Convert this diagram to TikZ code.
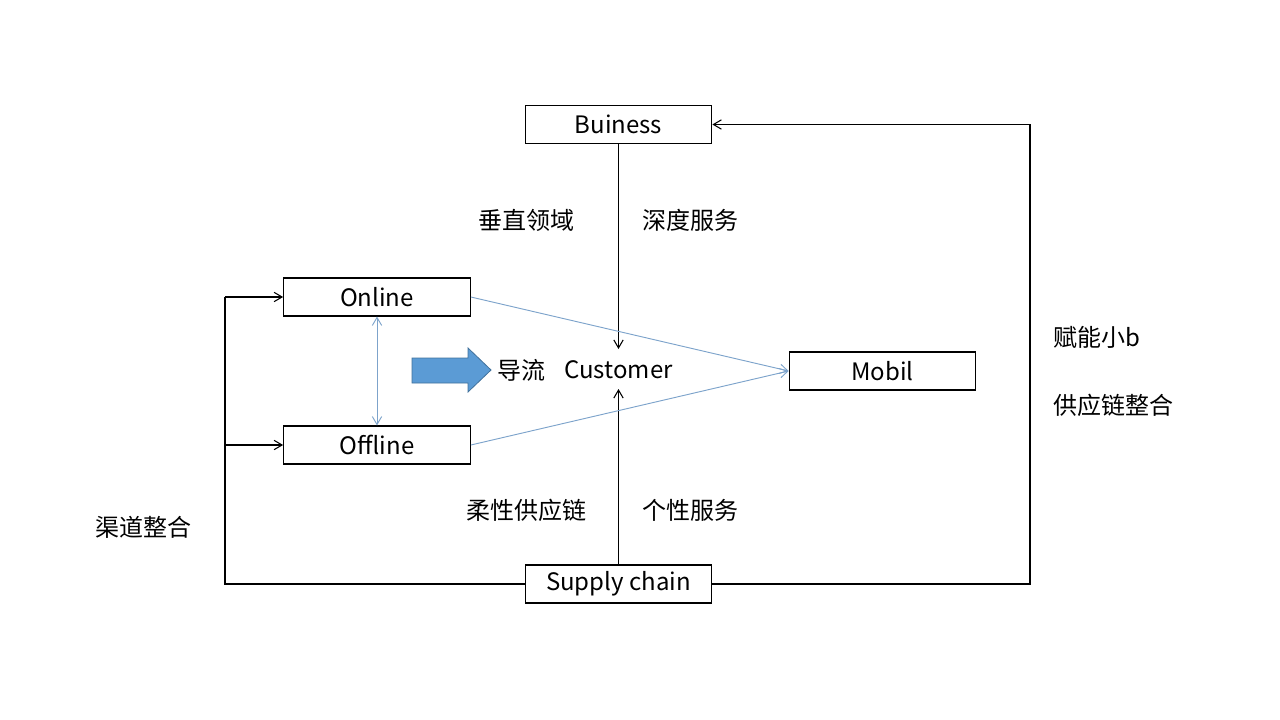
\documentclass[tikz,border=0pt]{standalone}
\usepackage{fontspec}
\setmainfont{Noto Sans CJK SC}
\usetikzlibrary{arrows.meta}
\definecolor{flowblue}{RGB}{91,155,213}
\definecolor{flowedge}{RGB}{65,113,156}
\definecolor{linkblue}{RGB}{125,163,203}

\begin{document}
\begin{tikzpicture}[x=0.75pt,y=-0.75pt,
    box/.style={draw,line width=0.8pt,minimum width=140pt,minimum height=28.5pt,inner sep=0pt,font=\fontsize{18}{20}\selectfont},
    lbl/.style={font=\fontsize{18}{20}\selectfont,inner sep=0pt},
    link/.style={line width=0.8pt,-{Straight Barb[length=6pt,width=7pt]}},
    bluelink/.style={draw=linkblue,line width=0.7pt,-{Straight Barb[length=6pt,width=7pt]}}]
  \useasboundingbox (0,0) rectangle (1280,720);
  % boxes
  \node[box] (buiness) at (618.5,124.5) {Buiness};
  \node[box] (online) at (377,297) {Online};
  \node[box] (offline) at (377,445) {Offline};
  \node[box] (mobil) at (882.5,371) {Mobil};
  \node[box] (supply) at (618.5,584) {Supply chain};
  \node[lbl] (customer) at (618.5,370) {Customer};
  \node[lbl] (daoliu) at (521,370) {导流};
  % labels
  \node[lbl] (chuizhi) at (526,220) {垂直领域};
  \node[lbl] (shendu) at (690,220) {深度服务};
  \node[lbl] (rouxing) at (526,510) {柔性供应链};
  \node[lbl] (gexing) at (690,510) {个性服务};
  \node[lbl] (qudao) at (143,527) {渠道整合};
  \node[lbl,anchor=west] (funeng) at (1053,337) {赋能小b};
  \node[lbl,anchor=west] (gongying) at (1053,405) {供应链整合};
  % big arrow
  \filldraw[fill=flowblue,draw=flowedge,line width=0.6pt]
    (412,358) -- (468,358) -- (468,348) -- (491,370) -- (468,392)
    -- (468,383) -- (412,383) -- cycle;
  % connectors
  \coordinate (cin) at (618.5,349);
  \coordinate (cout) at (618.5,389);
  \coordinate (lbot) at (225,584);
  \coordinate (ltop) at (225,297);
  \coordinate (lmid) at (225,445);
  \coordinate (rbot) at (1030,584);
  \coordinate (rtop) at (1030,124.5);
  \draw[link] (buiness) -- (cin);
  \draw[link] (supply) -- (cout);
  \draw[line width=0.8pt] (supply.west) -- (lbot) -- (ltop);
  \draw[link] (ltop) -- (online.west);
  \draw[link] (lmid) -- (offline.west);
  \draw[line width=0.8pt] (supply.east) -- (rbot) -- (rtop);
  \draw[link] (rtop) -- (buiness.east);
  \draw[bluelink] (online.east) -- (mobil.west);
  \draw[bluelink] (offline.east) -- (mobil.west);
  \draw[bluelink,{Straight Barb[length=6pt,width=7pt]}-{Straight Barb[length=6pt,width=7pt]}] (online) -- (offline);
\end{tikzpicture}
\end{document}
